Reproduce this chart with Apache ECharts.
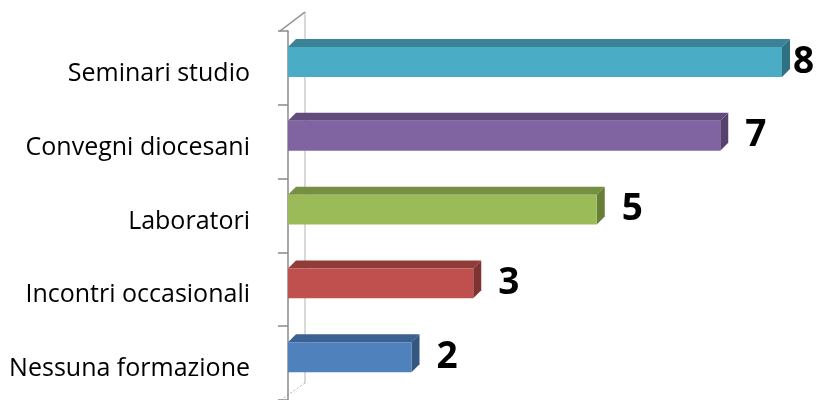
<!DOCTYPE html>
<html>
<head>
<meta charset="utf-8">
<script src="https://cdn.jsdelivr.net/npm/echarts@6/dist/echarts.min.js"></script>
<style>html,body{margin:0;padding:0;background:#fff}#c{width:816px;height:400px}</style>
</head>
<body>
<div id="c"></div>
<script>
// Categories listed bottom to top
const categories = ['Nessuna formazione', 'Incontri occasionali', 'Laboratori', 'Convegni diocesani', 'Seminari studio'];
const values = [2, 3, 5, 7, 8];
const xTickValues = [0, 1, 2, 3, 4, 5, 6, 7, 8];

const frontColors = ['#4f81bd', '#c0504d', '#9bbb59', '#8064a2', '#4bacc6'];
const topColors   = ['#3b6192', '#923c3a', '#768f42', '#614c7d', '#3a8397'];
const sideColors  = ['#34567f', '#7e3331', '#677e39', '#55426e', '#2f7081'];

const W = 816, H = 400;
const GRID = { left: 288, right: 34, top: 31, height: 372.5 };
const DEPTH = 8;

const chart = echarts.init(document.getElementById('c'), null, { renderer: 'canvas' });

const seriesData = values.map((v, i) => [v, i]);

function renderItem(params, api) {
  const idx = params.dataIndex;
  const val = api.value(0);
  const cat = api.value(1);
  const p0 = api.coord([0, cat]);
  const p1 = api.coord([val, cat]);
  const band = api.size([0, 1])[1];
  const h = band * 0.405;
  const cy = p0[1] - band * 0.08;
  const x0 = p0[0], x1 = p1[0];
  const yt = cy - h / 2, yb = cy + h / 2;
  const d = DEPTH;
  const lx = Math.min(x1 + d + 17, W - 23);
  return {
    type: 'group',
    children: [
      { type: 'polygon', shape: { points: [[x0, yt], [x0 + d, yt - d], [x1 + d, yt - d], [x1, yt]] },
        style: { fill: topColors[idx] } },
      { type: 'polygon', shape: { points: [[x1, yt], [x1 + d, yt - d], [x1 + d, yb - d], [x1, yb]] },
        style: { fill: sideColors[idx] } },
      { type: 'rect', shape: { x: x0, y: yt, width: x1 - x0, height: h },
        style: { fill: frontColors[idx] } },
      { type: 'text', x: lx, y: cy,
        style: { text: String(val), fill: '#000', font: 'bold 37px "Open Sans"', textAlign: 'left', textVerticalAlign: 'middle' } }
    ]
  };
}

const axisX = GRID.left - 8;
const wallX = axisX + 25;
const gridTop = GRID.top;

chart.setOption({
  animation: false,
  backgroundColor: '#ffffff',
  grid: { left: GRID.left, right: GRID.right, top: GRID.top, height: GRID.height, containLabel: false },
  xAxis: {
    type: 'value', min: xTickValues[0], max: xTickValues[xTickValues.length - 1], interval: 1,
    show: false
  },
  yAxis: {
    type: 'category', data: categories, offset: 8,
    axisLine: { show: true, lineStyle: { color: '#8a8a8a', width: 1.5 } },
    axisTick: { show: true, length: 10, alignWithLabel: false, lineStyle: { color: '#8a8a8a', width: 1.5 } },
    axisLabel: { margin: 30, color: '#000', fontFamily: 'Open Sans', fontSize: 25, verticalAlign: 'top', lineHeight: 12 },
    splitLine: { show: false }
  },
  graphic: [
    { type: 'line', shape: { x1: wallX, y1: gridTop - 19, x2: wallX, y2: H - 17 }, style: { stroke: '#d9d9d9', lineWidth: 2 }, z: 0 },
    { type: 'line', shape: { x1: axisX, y1: gridTop, x2: wallX, y2: gridTop - 19 }, style: { stroke: '#8a8a8a', lineWidth: 1.5 }, z: 0 },
    { type: 'line', shape: { x1: wallX, y1: H - 17, x2: axisX + 1, y2: H }, style: { stroke: '#b0b0b0', lineWidth: 1, lineDash: [2, 2] }, z: 0 }
  ],
  series: [{
    type: 'custom',
    renderItem: renderItem,
    data: seriesData,
    encode: { x: 0, y: 1 },
    clip: false,
    z: 5
  }]
});
</script>
</body>
</html>
